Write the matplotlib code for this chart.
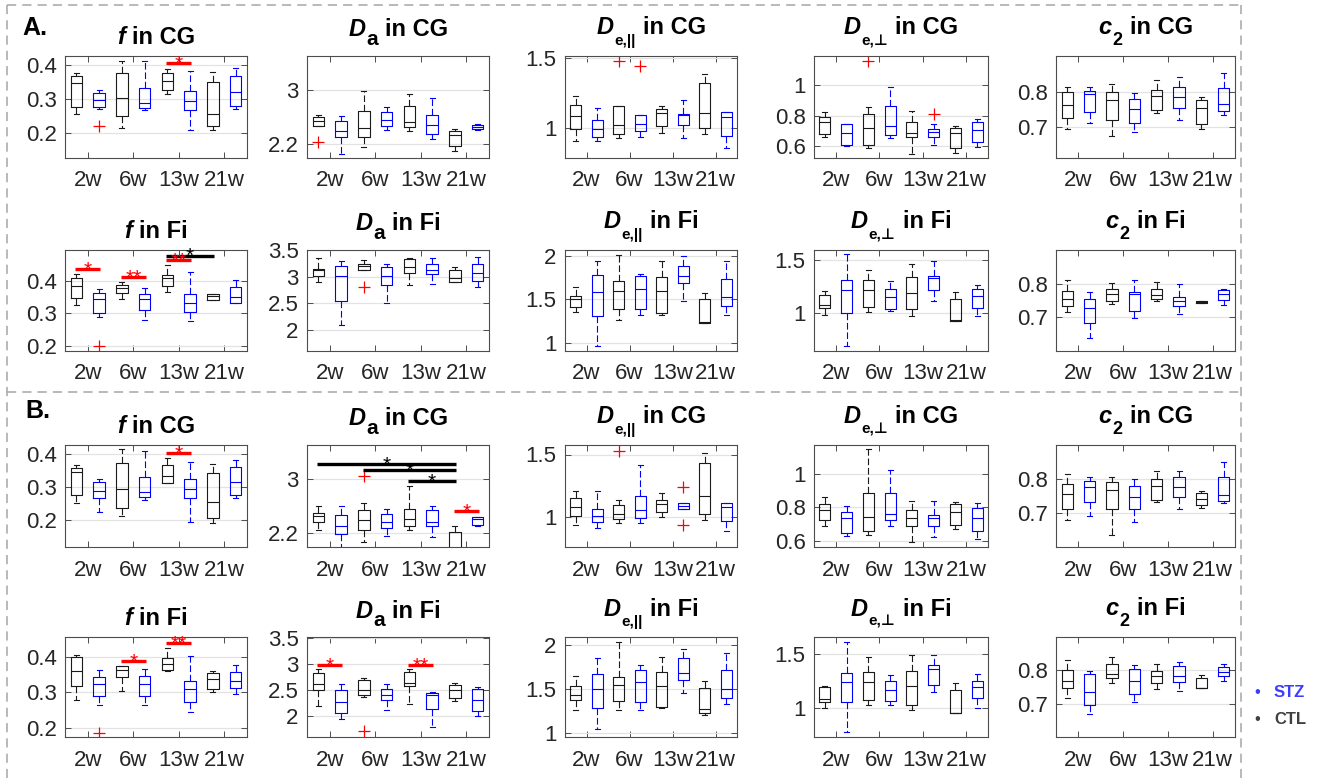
import matplotlib
matplotlib.use('Agg')
import matplotlib.pyplot as plt
from matplotlib.lines import Line2D
from matplotlib.ticker import FuncFormatter

plt.rcParams['font.family'] = ['Liberation Sans', 'DejaVu Sans']

weeks = ['2w', '6w', '13w', '21w']

# box stats (whislo, q1, med, q3, whishi), order: CTL 2w, STZ 2w, CTL 6w, STZ 6w, ... 21w
a_f_cg = [(0.256, 0.278, 0.349, 0.367, 0.378), (0.270, 0.277, 0.297, 0.317, 0.327),
          (0.216, 0.250, 0.304, 0.378, 0.411), (0.267, 0.274, 0.288, 0.334, 0.411),
          (0.316, 0.327, 0.352, 0.377, 0.390), (0.208, 0.269, 0.296, 0.325, 0.383),
          (0.209, 0.220, 0.257, 0.350, 0.381), (0.271, 0.281, 0.320, 0.369, 0.392)]
a_da_cg = [(2.465, 2.465, 2.535, 2.595, 2.63), (2.055, 2.305, 2.39, 2.545, 2.61),
           (2.15, 2.295, 2.435, 2.685, 2.98), (2.40, 2.46, 2.55, 2.665, 2.745),
           (2.39, 2.445, 2.52, 2.765, 2.935), (2.27, 2.345, 2.475, 2.625, 2.88),
           (2.10, 2.165, 2.33, 2.395, 2.42), (2.41, 2.415, 2.455, 2.48, 2.49)]
a_dpar_cg = [(0.908, 0.993, 1.090, 1.170, 1.233), (0.913, 0.937, 0.998, 1.061, 1.143),
             (0.932, 0.959, 1.027, 1.163, 1.163), (0.942, 0.985, 1.034, 1.095, 1.097),
             (0.968, 1.017, 1.107, 1.138, 1.160), (0.932, 1.024, 1.095, 1.104, 1.199),
             (0.964, 1.002, 1.112, 1.320, 1.388), (0.859, 0.944, 1.083, 1.119, 1.119)]
a_dperp_cg = [(0.658, 0.680, 0.760, 0.791, 0.820), (0.604, 0.609, 0.689, 0.742, 0.742),
              (0.589, 0.611, 0.722, 0.811, 0.858), (0.656, 0.673, 0.729, 0.864, 0.987),
              (0.553, 0.658, 0.689, 0.758, 0.831), (0.607, 0.658, 0.696, 0.711, 0.744),
              (0.558, 0.587, 0.684, 0.722, 0.731), (0.598, 0.631, 0.704, 0.758, 0.780)]
a_c2_cg = [(0.692, 0.725, 0.762, 0.800, 0.815), (0.711, 0.741, 0.795, 0.804, 0.815),
           (0.674, 0.719, 0.777, 0.800, 0.824), (0.683, 0.711, 0.752, 0.780, 0.797),
           (0.738, 0.749, 0.788, 0.805, 0.835), (0.720, 0.755, 0.786, 0.815, 0.844),
           (0.693, 0.706, 0.753, 0.776, 0.785), (0.732, 0.746, 0.765, 0.812, 0.854)]
a_f_fi = [(0.325, 0.346, 0.384, 0.409, 0.4215), (0.289, 0.302, 0.344, 0.362, 0.376),
          (0.345, 0.362, 0.378, 0.388, 0.397), (0.279, 0.309, 0.343, 0.358, 0.378),
          (0.364, 0.383, 0.407, 0.419, 0.448), (0.278, 0.303, 0.333, 0.360, 0.427),
          (0.340, 0.340, 0.353, 0.359, 0.359), (0.333, 0.333, 0.351, 0.381, 0.403)]
a_da_fi = [(2.90, 3.013, 3.12, 3.151, 3.352), (2.088, 2.535, 3.006, 3.201, 3.296),
           (3.12, 3.12, 3.208, 3.239, 3.321), (2.497, 2.843, 3.006, 3.176, 3.239),
           (2.843, 3.063, 3.176, 3.34, 3.352), (2.868, 3.05, 3.12, 3.239, 3.346),
           (2.906, 2.906, 2.981, 3.126, 3.182), (2.805, 2.918, 3.063, 3.239, 3.377)]
a_dpar_fi = [(1.357, 1.415, 1.50, 1.539, 1.647), (0.96, 1.307, 1.585, 1.778, 1.944),
             (1.257, 1.392, 1.596, 1.712, 2.017), (1.322, 1.392, 1.62, 1.774, 1.79),
             (1.322, 1.346, 1.596, 1.762, 1.944), (1.485, 1.689, 1.766, 1.882, 2.002),
             (1.23, 1.23, 1.238, 1.50, 1.573), (1.315, 1.423, 1.531, 1.739, 1.948)]
a_dperp_fi = [(0.974, 1.045, 1.074, 1.173, 1.208), (0.68, 1.0, 1.215, 1.314, 1.558),
              (1.006, 1.054, 1.215, 1.311, 1.404), (1.013, 1.038, 1.151, 1.224, 1.304),
              (0.965, 1.032, 1.183, 1.337, 1.468), (1.106, 1.212, 1.327, 1.349, 1.49),
              (0.92, 0.92, 0.926, 1.131, 1.196), (0.965, 1.048, 1.163, 1.228, 1.263)]
a_c2_fi = [(0.716, 0.734, 0.753, 0.778, 0.811), (0.638, 0.684, 0.727, 0.754, 0.776),
           (0.739, 0.748, 0.770, 0.783, 0.803), (0.697, 0.719, 0.768, 0.776, 0.811),
           (0.748, 0.755, 0.767, 0.783, 0.806), (0.711, 0.735, 0.749, 0.761, 0.799),
           (0.743, 0.743, 0.745, 0.748, 0.748), (0.737, 0.751, 0.768, 0.781, 0.785)]

b_f_cg = [(0.252, 0.275, 0.347, 0.359, 0.368), (0.224, 0.267, 0.289, 0.315, 0.326),
          (0.212, 0.237, 0.293, 0.373, 0.417), (0.260, 0.268, 0.284, 0.330, 0.412),
          (0.311, 0.311, 0.334, 0.368, 0.388), (0.193, 0.265, 0.294, 0.324, 0.376),
          (0.189, 0.205, 0.253, 0.342, 0.372), (0.265, 0.276, 0.315, 0.363, 0.383)]
b_da_cg = [(2.255, 2.369, 2.448, 2.498, 2.602), (1.99, 2.195, 2.304, 2.468, 2.607),
           (2.071, 2.25, 2.394, 2.548, 2.642), (2.165, 2.274, 2.364, 2.483, 2.563),
           (2.255, 2.314, 2.418, 2.558, 2.90), (2.14, 2.304, 2.364, 2.538, 2.597),
           (1.85, 1.90, 1.95, 2.215, 2.314), (2.309, 2.319, 2.404, 2.443, 2.443)]
b_dpar_cg = [(0.938, 1.005, 1.081, 1.151, 1.205), (0.916, 0.957, 1.005, 1.068, 1.208),
             (0.954, 0.984, 1.027, 1.10, 1.138), (0.951, 0.992, 1.054, 1.170, 1.416),
             (0.997, 1.043, 1.108, 1.140, 1.189), (1.068, 1.068, 1.086, 1.111, 1.111),
             (0.973, 1.024, 1.17, 1.429, 1.516), (0.887, 0.970, 1.078, 1.116, 1.116)]
b_dperp_cg = [(0.687, 0.724, 0.786, 0.820, 0.862), (0.627, 0.645, 0.738, 0.770, 0.810),
              (0.635, 0.661, 0.744, 0.884, 1.146), (0.687, 0.724, 0.762, 0.884, 1.021),
              (0.595, 0.687, 0.738, 0.784, 0.838), (0.623, 0.689, 0.734, 0.756, 0.838),
              (0.671, 0.695, 0.772, 0.820, 0.834), (0.613, 0.657, 0.734, 0.794, 0.826)]
b_c2_cg = [(0.679, 0.713, 0.755, 0.785, 0.814), (0.692, 0.731, 0.777, 0.793, 0.806),
           (0.635, 0.711, 0.767, 0.791, 0.806), (0.675, 0.711, 0.747, 0.780, 0.799),
           (0.731, 0.739, 0.779, 0.799, 0.825), (0.713, 0.747, 0.777, 0.806, 0.823),
           (0.716, 0.724, 0.741, 0.759, 0.766), (0.728, 0.735, 0.754, 0.806, 0.849)]
b_f_fi = [(0.279, 0.317, 0.360, 0.401, 0.407), (0.265, 0.289, 0.323, 0.345, 0.364),
          (0.303, 0.345, 0.364, 0.375, 0.376), (0.263, 0.291, 0.324, 0.348, 0.366),
          (0.361, 0.365, 0.381, 0.399, 0.426), (0.244, 0.273, 0.310, 0.332, 0.403),
          (0.301, 0.309, 0.337, 0.356, 0.362), (0.295, 0.314, 0.334, 0.358, 0.379)]
b_da_fi = [(2.186, 2.50, 2.603, 2.827, 2.904), (1.936, 2.045, 2.263, 2.494, 2.615),
           (2.359, 2.391, 2.494, 2.692, 2.731), (2.103, 2.295, 2.391, 2.519, 2.615),
           (2.218, 2.564, 2.635, 2.840, 2.904), (1.782, 2.122, 2.391, 2.442, 2.455),
           (2.282, 2.333, 2.487, 2.59, 2.635), (1.994, 2.083, 2.308, 2.513, 2.545)]
b_dpar_fi = [(1.271, 1.383, 1.436, 1.541, 1.65), (1.049, 1.293, 1.508, 1.677, 1.85),
             (1.263, 1.372, 1.549, 1.643, 2.038), (1.267, 1.361, 1.579, 1.722, 1.774),
             (1.289, 1.297, 1.534, 1.692, 1.865), (1.459, 1.609, 1.688, 1.85, 1.962),
             (1.21, 1.229, 1.282, 1.511, 1.59), (1.331, 1.398, 1.504, 1.718, 1.914)]
b_dperp_fi = [(1.0, 1.056, 1.084, 1.194, 1.209), (0.778, 1.059, 1.247, 1.325, 1.616),
              (1.031, 1.078, 1.241, 1.334, 1.478), (1.031, 1.066, 1.172, 1.25, 1.309),
              (0.981, 1.028, 1.209, 1.344, 1.494), (1.153, 1.219, 1.366, 1.397, 1.497),
              (0.959, 0.959, 0.959, 1.169, 1.238), (1.0, 1.094, 1.194, 1.253, 1.316)]
b_c2_fi = [(0.716, 0.746, 0.769, 0.802, 0.832), (0.668, 0.695, 0.736, 0.788, 0.798),
           (0.762, 0.776, 0.788, 0.818, 0.839), (0.705, 0.730, 0.768, 0.805, 0.816),
           (0.743, 0.762, 0.784, 0.799, 0.819), (0.739, 0.765, 0.782, 0.812, 0.825),
           (0.748, 0.748, 0.748, 0.778, 0.786), (0.768, 0.784, 0.794, 0.809, 0.818)]

# outliers: (box number 1-8, value)
a_fliers = {(0, 0): [(2, 0.220)], (0, 1): [(1, 2.22)], (0, 2): [(3, 1.48), (4, 1.444)],
            (0, 3): [(3, 1.156), (6, 0.809)], (1, 0): [(2, 0.20)], (1, 1): [(3, 2.81)]}
b_fliers = {(0, 1): [(3, 3.035)], (0, 2): [(3, 1.527), (6, 1.240), (6, 0.935)],
            (1, 0): [(2, 0.185)], (1, 1): [(3, 1.705)]}

# significance bars: (from box, to box, y, number of stars, colour)
a_sig = {(0, 0): [(5, 6, 0.407, 1, 'r')],
         (1, 0): [(1, 2, 0.436, 1, 'r'), (3, 4, 0.410, 2, 'r'), (5, 6, 0.4626, 2, 'r'),
                  (5, 7, 0.477, 1, 'k')]}
b_sig = {(0, 0): [(5, 6, 0.403, 1, 'r')],
         (0, 1): [(1, 7, 3.214, 1, 'k'), (3, 7, 3.129, 1, 'k'), (5, 7, 2.97, 1, 'k'),
                  (7, 8, 2.523, 1, 'r')],
         (1, 0): [(3, 4, 0.389, 1, 'r'), (5, 6, 0.44, 2, 'r')],
         (1, 1): [(1, 2, 2.968, 1, 'r'), (5, 6, 2.968, 2, 'r')]}

a_ylims = [[(0.127, 0.427), (1.99, 3.5), (0.79, 1.515), (0.524, 1.187), (0.609, 0.904)],
           [(0.185, 0.494), (1.6, 3.5), (0.903, 2.07), (0.631, 1.6), (0.6, 0.9)]]
b_ylims = [[(0.116, 0.429), (2.0, 3.497), (0.76, 1.576), (0.564, 1.171), (0.6, 0.9)],
           [(0.173, 0.458), (1.59, 3.51), (0.959, 2.094), (0.734, 1.66), (0.6, 0.9)]]
cg_ticks = [[0.2, 0.3, 0.4], [2.2, 3], [1, 1.5], [0.6, 0.8, 1], [0.7, 0.8]]
fi_ticks = [[0.2, 0.3, 0.4], [2, 2.5, 3, 3.5], [1, 1.5, 2], [1, 1.5], [0.7, 0.8]]

# title symbol, subscript, subscript size (pt), subscript drop (px)
params = [('f', '', 0, 0), ('D', 'a', 15, 8.5), ('D', 'e,||', 11, 10.5),
          ('D', 'e,\u22a5', 11, 10.5), ('c', '2', 13, 11)]
regions = ['CG', 'Fi']

# layout in pixels
W, H = 1324, 780
row_px = [(56, 158), (250, 351), (445, 547), (637, 737)]
col_px = [(65, 247), (307, 489), (565, 737), (814, 988), (1056, 1235)]

CTL_COL = '#1a1a1a'
STZ_COL = '#0000ff'
AX_COL = '#4d4d4d'
TXT_COL = '#262626'

fig = plt.figure(figsize=(W / 100, H / 100), dpi=100)
renderer = fig.canvas.get_renderer()


def rich_title(center_x, ax_top, sym, sub, sub_size, drop, region):
    # title bottom sits ~11 px above the axes, subscript included
    base = ax_top - 11 - drop if sub else ax_top - 12
    pieces = [(sym, 'italic', 17, 0, 0)]
    if sub:
        pieces.append((sub, 'normal', sub_size, drop, 1))
    pieces.append(('in ' + region, 'normal', 17, 0, 7))
    arts = []
    total = 0
    for txt, style, size, dy, gap in pieces:
        t = fig.text(0, 0, txt, fontsize=size, fontweight='bold', fontstyle=style,
                     va='baseline', ha='left', color='k')
        w = t.get_window_extent(renderer).width
        arts.append((t, w, dy, gap))
        total += w + gap
    x = center_x - total / 2
    for t, w, dy, gap in arts:
        x += gap
        t.set_position((x / W, 1 - (base + dy) / H))
        x += w


def draw_panel(ax, stats, fliers, sigs, ylim, yticks):
    for start, col in [(0, CTL_COL), (1, STZ_COL)]:
        bstats = []
        pos = []
        for i in range(start, 8, 2):
            lo, q1, md, q3, hi = stats[i]
            bstats.append(dict(whislo=lo, q1=q1, med=md, q3=q3, whishi=hi,
                               fliers=[v for b, v in fliers if b == i + 1]))
            pos.append(i + 1)
        ax.bxp(bstats, positions=pos, widths=0.5, capwidths=0.22, manage_ticks=False,
               boxprops=dict(color=col, lw=0.8),
               medianprops=dict(color=col, lw=0.8),
               whiskerprops=dict(color=col, lw=0.8, linestyle=(0, (6, 2.5))),
               capprops=dict(color=col, lw=0.8),
               flierprops=dict(marker='+', markeredgecolor='r', markersize=8, mew=0.9,
                               linestyle='none'))
    for x1, x2, y, n, c in sigs:
        ax.plot([x1 - 0.05, x2 + 0.05], [y, y], color=c, lw=2.4, clip_on=False,
                solid_capstyle='butt', zorder=5)
        ax.annotate('*' * n, xy=((x1 + x2) / 2, y), xytext=(0, -4.8),
                    textcoords='offset points', ha='center', va='baseline',
                    fontsize=15, color=c, annotation_clip=False, zorder=6)
    ax.set_xlim(0.5, 8.5)
    ax.set_ylim(*ylim)
    ax.set_xticks([1.5, 3.5, 5.5, 7.5])
    ax.set_xticklabels(weeks)
    ax.set_yticks(yticks)
    ax.yaxis.set_major_formatter(FuncFormatter(lambda v, p: '%g' % v))
    ax.grid(axis='y', color='#e3e3e3', lw=0.9)
    ax.set_axisbelow(True)
    ax.tick_params(direction='in', length=4, width=0.7, color=AX_COL, top=True, right=True,
                   labelsize=16, labelcolor=TXT_COL)
    ax.tick_params(axis='x', pad=9)
    ax.tick_params(axis='y', pad=6)
    for s in ax.spines.values():
        s.set_color(AX_COL)
        s.set_linewidth(0.8)


section_data = [
    ([[a_f_cg, a_da_cg, a_dpar_cg, a_dperp_cg, a_c2_cg],
      [a_f_fi, a_da_fi, a_dpar_fi, a_dperp_fi, a_c2_fi]], a_fliers, a_sig, a_ylims),
    ([[b_f_cg, b_da_cg, b_dpar_cg, b_dperp_cg, b_c2_cg],
      [b_f_fi, b_da_fi, b_dpar_fi, b_dperp_fi, b_c2_fi]], b_fliers, b_sig, b_ylims),
]

for s, (grid, fl, sg, yl) in enumerate(section_data):
    for r in range(2):
        top, bot = row_px[2 * s + r]
        for c in range(5):
            left, right = col_px[c]
            ax = fig.add_axes([left / W, 1 - bot / H, (right - left) / W, (bot - top) / H])
            ticks = cg_ticks[c] if r == 0 else fi_ticks[c]
            draw_panel(ax, grid[r][c], fl.get((r, c), []), sg.get((r, c), []),
                       yl[r][c], ticks)
            sym, sub, sub_size, drop = params[c]
            rich_title((left + right) / 2, top, sym, sub, sub_size, drop, regions[r])

# section labels
fig.text(22 / W, 1 - 35 / H, 'A.', fontsize=18, fontweight='bold', va='baseline')
fig.text(25 / W, 1 - 418 / H, 'B.', fontsize=18, fontweight='bold', va='baseline')

# legend
fig.text(1257 / W, 1 - 697 / H, '\u2022', color='#3c3cff', fontsize=12, ha='center', va='baseline')
fig.text(1274 / W, 1 - 697 / H, 'STZ', color='#3c3cff', fontsize=12, fontweight='bold', va='baseline')
fig.text(1257 / W, 1 - 724 / H, '\u2022', color='#404040', fontsize=12, ha='center', va='baseline')
fig.text(1274 / W, 1 - 724 / H, 'CTL', color='#404040', fontsize=12, fontweight='bold', va='baseline')

# dashed frames
frame = dict(color='#a6a6a6', lw=1.1, linestyle=(0, (6, 4)), transform=fig.transFigure)
for xs, ys in [((7, 1241), (5, 5)), ((7, 1241), (392, 392)),
               ((7, 7), (5, 780)), ((1241, 1241), (5, 780))]:
    fig.add_artist(Line2D([x / W for x in xs], [1 - y / H for y in ys], **frame))

fig.savefig('out.png', dpi=100)
